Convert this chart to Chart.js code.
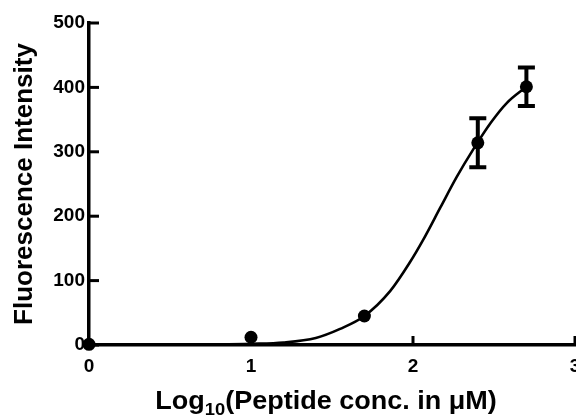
<!DOCTYPE html>
<html>
<head>
<meta charset="utf-8">
<script src="https://cdn.jsdelivr.net/npm/chart.js@4"></script>
<style>
  html, body { margin: 0; padding: 0; overflow: hidden; background: #fff; }
  #wrap { width: 576px; height: 416px; overflow: hidden; }
</style>
</head>
<body>
<div id="wrap"><canvas id="grafico" width="600" height="416"></canvas></div>
<script>
// medidas (log10 da concentração) e intensidade média
const pontosX = [0, 1, 1.7, 2.4, 2.7];
const pontosY = [1, 12, 45, 314, 401];
const erros = [0, 0, 0, 38, 30];

// curva ajustada
const curvaX = [0.4, 0.8, 1.0, 1.2, 1.4, 1.55, 1.7, 1.86, 1.98, 2.06, 2.17, 2.27, 2.37, 2.48, 2.58, 2.7];
const curvaY = [0, 1, 2, 4, 11, 25, 45, 84, 128, 162, 214, 261, 303, 345, 376, 401];

const ticksX = [0, 1, 2, 3];
const ticksY = [0, 100, 200, 300, 400, 500];

const tituloY = 'Fluorescence Intensity';
const tituloX = ['Log', '10', '(Peptide conc. in \u03bcM)'];

const fonte = '"Liberation Sans", Arial, sans-serif';

const decoracao = {
    id: 'decoracao',
    afterDatasetsDraw(chart) {
        const { ctx, scales: { x, y } } = chart;
        ctx.save();
        ctx.strokeStyle = '#000';
        ctx.lineWidth = 4;
        ctx.lineCap = 'butt';
        pontosX.forEach((v, i) => {
            if (!erros[i]) return;
            const px = x.getPixelForValue(v);
            const topo = y.getPixelForValue(pontosY[i] + erros[i]);
            const base = y.getPixelForValue(pontosY[i] - erros[i]);
            ctx.beginPath();
            ctx.moveTo(px, topo);
            ctx.lineTo(px, base);
            ctx.moveTo(px - 8.5, topo);
            ctx.lineTo(px + 8.5, topo);
            ctx.moveTo(px - 8.5, base);
            ctx.lineTo(px + 8.5, base);
            ctx.stroke();
        });
        ctx.restore();
    },
    afterDraw(chart) {
        const { ctx, chartArea, scales: { x, y } } = chart;
        ctx.save();
        // marcas para dentro
        ctx.strokeStyle = '#000';
        ctx.lineWidth = 3;
        ticksY.forEach(v => {
            const py = y.getPixelForValue(v);
            ctx.beginPath();
            ctx.moveTo(chartArea.left, py);
            ctx.lineTo(chartArea.left + 10, py);
            ctx.stroke();
        });
        ticksX.forEach(v => {
            if (v === 0) return;
            const px = x.getPixelForValue(v);
            ctx.beginPath();
            ctx.moveTo(px, chartArea.bottom);
            ctx.lineTo(px, chartArea.bottom - 9);
            ctx.stroke();
        });

        // títulos dos eixos
        ctx.fillStyle = '#000';
        ctx.font = 'bold 26px ' + fonte;
        ctx.textBaseline = 'middle';
        ctx.textAlign = 'center';
        ctx.save();
        ctx.translate(25, 184);
        ctx.rotate(-Math.PI / 2);
        ctx.fillText(tituloY, 0, 0);
        ctx.restore();

        ctx.textBaseline = 'alphabetic';
        ctx.textAlign = 'left';
        const fonteGrande = 'bold 25px ' + fonte;
        const fontePequena = 'bold 17px ' + fonte;
        ctx.font = fonteGrande;
        const w1 = ctx.measureText(tituloX[0]).width;
        const w3 = ctx.measureText(tituloX[2]).width;
        ctx.font = fontePequena;
        const w2 = ctx.measureText(tituloX[1]).width;
        const total = w1 + w2 + w3;
        const esticar = 1.08;
        ctx.translate(326 - total * esticar / 2, 409);
        ctx.scale(esticar, 1);
        let px = 0;
        ctx.font = fonteGrande;
        ctx.fillText(tituloX[0], px, 0);
        px += w1;
        ctx.font = fontePequena;
        ctx.fillText(tituloX[1], px, 6);
        px += w2;
        ctx.font = fonteGrande;
        ctx.fillText(tituloX[2], px, 0);
        ctx.restore();
    }
};

new Chart(document.getElementById('grafico').getContext('2d'), {
    type: 'scatter',
    data: {
        datasets: [{
            type: 'line',
            label: 'ajuste',
            data: curvaX.map((v, i) => ({ x: v, y: curvaY[i] })),
            borderColor: '#000',
            borderWidth: 2.6,
            pointRadius: 0,
            cubicInterpolationMode: 'monotone',
            fill: false
        }, {
            label: 'medidas',
            data: pontosX.map((v, i) => ({ x: v, y: pontosY[i] })),
            backgroundColor: '#000',
            borderColor: '#000',
            borderWidth: 0,
            pointRadius: 6.5,
            clip: false
        }]
    },
    options: {
        responsive: false,
        animation: false,
        events: [],
        layout: {
            padding: { left: 0, right: 25, top: 23, bottom: 0 }
        },
        plugins: {
            legend: { display: false },
            tooltip: { enabled: false }
        },
        scales: {
            x: {
                type: 'linear',
                min: 0,
                max: 3,
                afterBuildTicks: scale => { scale.ticks = ticksX.map(v => ({ value: v })); },
                afterFit: scale => { scale.height = 71; },
                grid: { display: true, color: 'rgba(0,0,0,0)', drawOnChartArea: false, drawTicks: false },
                border: { display: true, color: '#000', width: 3.5 },
                ticks: {
                    color: '#000',
                    padding: 10,
                    font: { family: fonte, size: 19, weight: 'bold' },
                    maxRotation: 0
                }
            },
            y: {
                min: 0,
                max: 500,
                afterBuildTicks: scale => { scale.ticks = ticksY.map(v => ({ value: v })); },
                afterFit: scale => { scale.width = 89; },
                grid: { display: true, color: 'rgba(0,0,0,0)', drawOnChartArea: false, drawTicks: false },
                border: { display: true, color: '#000', width: 3.5 },
                ticks: {
                    color: '#000',
                    padding: 4,
                    font: { family: fonte, size: 19, weight: 'bold' }
                }
            }
        }
    },
    plugins: [decoracao]
});
</script>
</body>
</html>
